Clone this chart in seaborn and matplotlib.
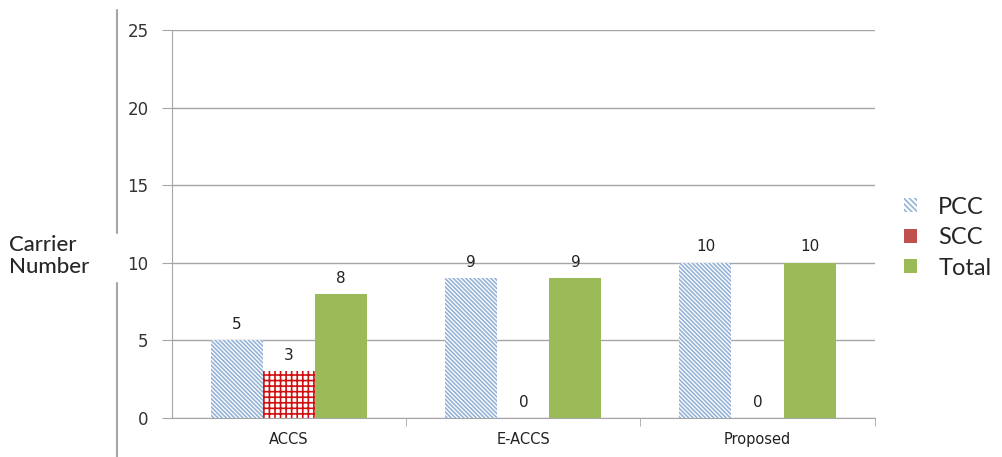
import pandas as pd
import matplotlib.pyplot as plt
import seaborn as sns
from matplotlib.patches import Patch
from matplotlib.lines import Line2D

# ---------------------------------------------------------
# Data
# ---------------------------------------------------------
categories = ["ACCS", "E-ACCS", "Proposed"]
series = ["PCC", "SCC", "Total"]
pcc = [5, 9, 10]
scc = [3, 0, 0]
total = [8, 9, 10]
yticks = [0, 5, 10, 15, 20, 25]

df = pd.DataFrame({
    "scheme": categories * 3,
    "kind": ["PCC"] * 3 + ["SCC"] * 3 + ["Total"] * 3,
    "value": pcc + scc + total,
})

blue = "#95B3D7"
red = "#D01010"
green = "#9BBB59"
grey = "#A6A6A6"

sns.set_style("white")
plt.rcParams["hatch.linewidth"] = 1.2

fig = plt.figure(figsize=(10.03, 4.57), dpi=100)
ax = fig.add_axes([0.1715, 0.0853, 0.7005, 0.8490])

sns.barplot(data=df, x="scheme", y="value", hue="kind", order=categories,
            hue_order=series, width=0.667, palette=[blue, red, green],
            ax=ax, legend=False, saturation=1)

# bar styling
for bar in ax.containers[0]:
    bar.set_facecolor("white")
    bar.set_edgecolor(blue)
    bar.set_hatch("\\\\\\\\\\\\\\\\")
    bar.set_linewidth(0)
for bar in ax.containers[1]:
    bar.set_facecolor("white")
    bar.set_edgecolor(red)
    bar.set_hatch("+++")
    bar.set_linewidth(0)
for bar in ax.containers[2]:
    bar.set_facecolor(green)
    bar.set_linewidth(0)

for cont in ax.containers:
    ax.bar_label(cont, fmt="%d", padding=6, fontsize=11, color="#222222")

# axes
ax.set_ylim(0, 25)
ax.set_xlim(-0.5, 2.5)
ax.set_yticks(yticks)
ax.yaxis.grid(True, color=grey, linewidth=1)
ax.set_axisbelow(True)
for side in ["top", "right"]:
    ax.spines[side].set_visible(False)
ax.spines["left"].set_color(grey)
ax.spines["bottom"].set_color(grey)
ax.tick_params(axis="y", left=True, length=7, color=grey,
               labelsize=12, labelcolor="#333333", pad=10)
ax.tick_params(axis="x", which="major", length=0, labelsize=10.5,
               labelcolor="#222222", pad=10)
ax.set_xticks([0.5, 1.5, 2.5], minor=True)
ax.tick_params(axis="x", which="minor", bottom=True, length=6, color=grey)
ax.set_xlabel("")
ax.set_ylabel("")

fig.text(0.009, 0.44, "Carrier\nNumber", fontsize=16, family="Lato",
         fontweight="medium", ha="left", va="center", linespacing=1.15)

# frame line of the chart area
fig.add_artist(Line2D([0.1167, 0.1167], [1 - 10 / 457, 1 - 233 / 457],
                      color=grey, linewidth=1.5))
fig.add_artist(Line2D([0.1167, 0.1167], [1 - 283 / 457, 0.0],
                      color=grey, linewidth=1.5))

handles = [
    Patch(facecolor="white", edgecolor=blue, hatch="\\\\\\\\\\\\", linewidth=0),
    Patch(facecolor="#C0504D", linewidth=0),
    Patch(facecolor=green, linewidth=0),
]
fig.legend(handles, series, loc="center left", bbox_to_anchor=(0.880, 0.48),
           frameon=False, handlelength=0.55, handleheight=0.55,
           handletextpad=0.9, labelspacing=0.4,
           prop={"family": "Lato", "size": 17})

fig.savefig("out.png", dpi=100)
